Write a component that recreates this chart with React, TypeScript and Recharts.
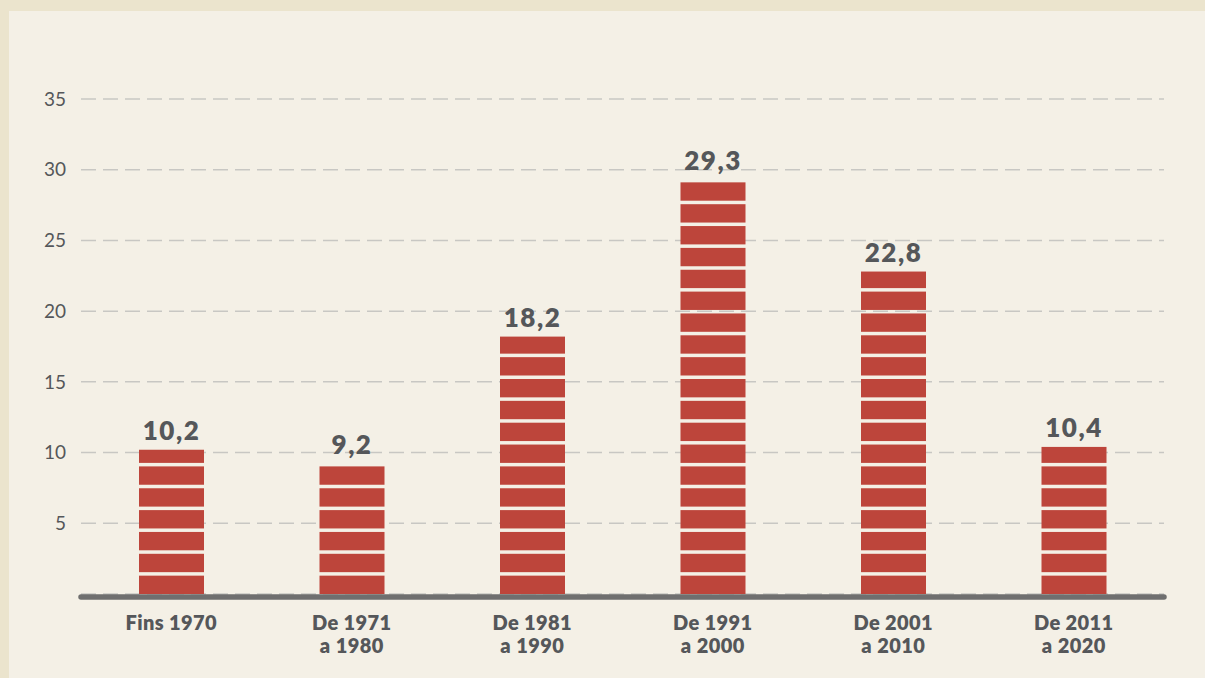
import React from 'react';
import { BarChart, Bar, XAxis, YAxis, CartesianGrid, LabelList, ReferenceLine } from 'recharts';

const categories: string[] = ['Fins 1970', 'De 1971\na 1980', 'De 1981\na 1990', 'De 1991\na 2000', 'De 2001\na 2010', 'De 2011\na 2020'];
const values: number[] = [10.2, 9.2, 18.2, 29.3, 22.8, 10.4];
const yTicks: number[] = [5, 10, 15, 20, 25, 30, 35];

const data = categories.map((c, i) => ({ cat: c, value: values[i] }));

const FONT = 'Lato, "Open Sans", sans-serif';
const TEXT = '#55575a';
const RED = '#bd453b';

const BrickBar = (props: any) => {
  const { x, y, width, height } = props;
  if (!height || height <= 0) return null;
  const period = 21.85;
  const gap = 3.5;
  const brick = period - gap;
  const rects: React.ReactNode[] = [];
  let bottom = y + height;
  let i = 0;
  while (bottom > y + 0.2) {
    const top = Math.max(y, bottom - brick);
    rects.push(<rect key={i} x={x} y={top} width={width} height={bottom - top} fill={RED} />);
    bottom -= period;
    i++;
  }
  return <g>{rects}</g>;
};

const CatTick = (props: any) => {
  const { x, y, payload } = props;
  const lines = String(payload.value).split('\n');
  return (
    <text x={x} y={y} textAnchor="middle" fill={TEXT} fontFamily={FONT} fontWeight={800} fontSize={20} letterSpacing={0.4}>
      {lines.map((l, i) => (
        <tspan key={i} x={x} dy={i === 0 ? 28 : 23}>{l}</tspan>
      ))}
    </text>
  );
};

const AxisBase = (props: any) => {
  const { x1, x2, y1 } = props;
  return <line x1={x1} x2={x2} y1={y1 + 3} y2={y1 + 3} stroke="#6f6f6f" strokeWidth={5.5} strokeLinecap="round" />;
};

export default function App() {
  return (
    <div style={{ position: 'absolute', left: 0, top: 0, width: 1205, height: 678, background: '#ebe4cd', overflow: 'hidden' }}>
      <div style={{ position: 'absolute', left: 9, top: 11, width: 1196, height: 667, background: '#f4f0e6' }} />
      <div style={{ position: 'absolute', left: 0, top: 0 }}>
        <BarChart width={1205} height={678} data={data} margin={{ top: 99, right: 41, bottom: 54, left: 21 }}>
          <CartesianGrid vertical={false} stroke="#c8c7c3" strokeWidth={1.5} strokeDasharray="15 7" />
          <YAxis
            width={60}
            domain={[0, 35]}
            ticks={yTicks}
            axisLine={false}
            tickLine={false}
            tickMargin={9}
            tick={{ fill: TEXT, fontFamily: FONT, fontSize: 19 }}
          />
          <XAxis dataKey="cat" height={30} axisLine={false} tickLine={false} tick={<CatTick />} interval={0} />
          <Bar dataKey="value" barSize={65} shape={<BrickBar />} isAnimationActive={false}>
            <LabelList
              dataKey="value"
              position="top"
              offset={10}
              formatter={(v: any) => Number(v).toFixed(1).replace('.', ',')}
              style={{ fill: TEXT, fontFamily: FONT, fontWeight: 800, fontSize: 26, letterSpacing: 1.5 }}
            />
          </Bar>
          <ReferenceLine y={0} shape={<AxisBase />} />
        </BarChart>
      </div>
    </div>
  );
}
